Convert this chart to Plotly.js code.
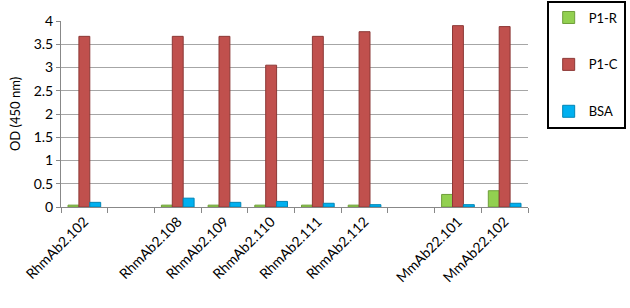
<!DOCTYPE html>
<html><head><meta charset="utf-8">
<script src="https://cdn.plot.ly/plotly-3.0.1.min.js"></script>
<style>html,body{margin:0;padding:0;background:#fff}</style>
</head><body><div id="chart" style="width:630px;height:308px"></div>
<script>
var categories = ["RhmAb2.102", " ", "RhmAb2.108", "RhmAb2.109", "RhmAb2.110", "RhmAb2.111", "RhmAb2.112", "  ", "MmAb22.101", "MmAb22.102"];
var p1r = [0.04, null, 0.04, 0.04, 0.04, 0.04, 0.04, null, 0.27, 0.35];
var p1c = [3.67, null, 3.67, 3.67, 3.05, 3.67, 3.77, null, 3.9, 3.88];
var bsa = [0.1, null, 0.19, 0.1, 0.12, 0.08, 0.05, null, 0.05, 0.08];
var font = "Lato, 'Open Sans', sans-serif";
function tr(name, y, color, side, grp){
  return {type:"bar", name:name, x:categories, y:y, legendgroup:grp,
    marker:{color:color, line:{color:side, width:1}}, hoverinfo:"y"};
}
var data = [
  tr("P1-R", p1r, "#92d050", "#6f9e3a", "a"),
  tr("P1-C", p1c, "#c0504d", "#8c3836", "b"),
  tr("BSA", bsa, "#00b0f0", "#0085b5", "c")
];
var layout = {
  width:630, height:308,
  margin:{l:61, r:102, t:21, b:101, autoexpand:false},
  paper_bgcolor:"#fff", plot_bgcolor:"#fff",
  barmode:"group", bargap:0.3, bargroupgap:0,
  font:{family:font, size:12, color:"#000"},
  xaxis:{type:"category", categoryorder:"array", categoryarray:categories,
    tickson:"boundaries", ticks:"outside", ticklen:5, tickcolor:"#888",
    showline:true, linecolor:"#888", tickangle:-45, showgrid:false,
    tickfont:{family:font, size:14}},
  yaxis:{range:[0,4], dtick:0.5, showline:true, linecolor:"#888",
    ticks:"outside", ticklen:4, tickcolor:"#888",
    gridcolor:"#a6a6a6", gridwidth:1, zeroline:false,
    tickfont:{family:font, size:14},
    title:{text:"OD (450 nm)", font:{family:font, size:13}, standoff:10}},
  showlegend:true,
  legend:{x:1.04, xanchor:"left", y:1.11, yanchor:"top",
    bordercolor:"#000", borderwidth:2, bgcolor:"#fff",
    traceorder:"grouped", tracegroupgap:27,
    font:{family:font, size:13}, itemwidth:30}
};
Plotly.newPlot("chart", data, layout, {displayModeBar:false, staticPlot:true});
</script></body></html>
